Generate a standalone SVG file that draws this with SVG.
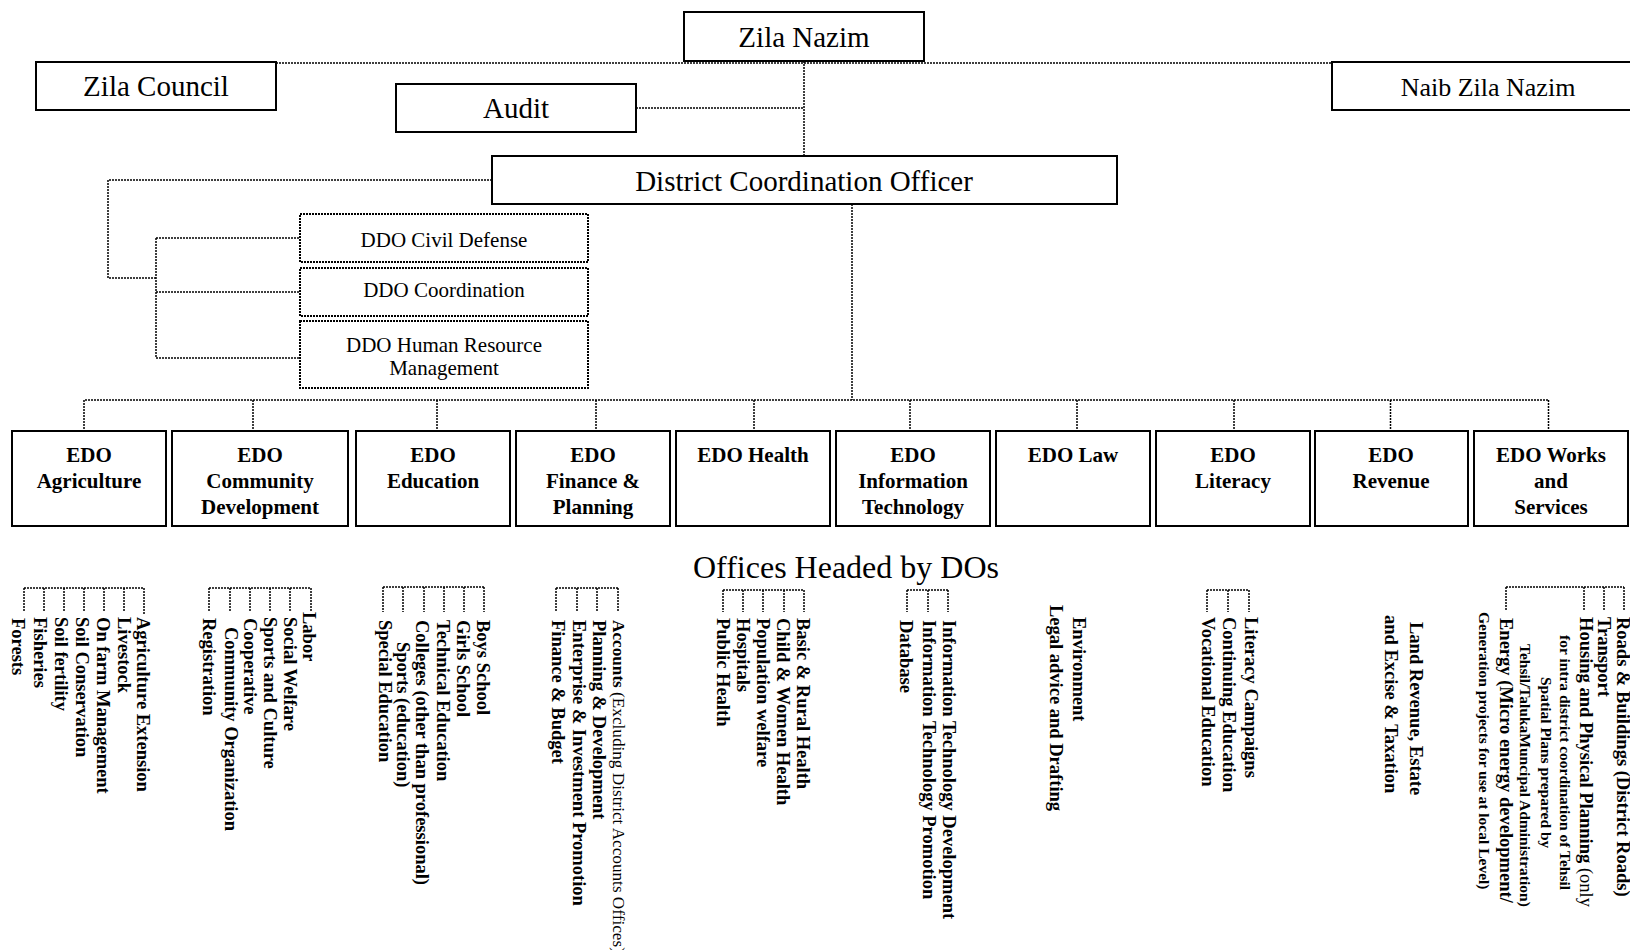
<svg xmlns="http://www.w3.org/2000/svg" width="1630" height="950" viewBox="0 0 1630 950">
<style>
.box{fill:#fff;stroke:#000;stroke-width:2}
.dbox{fill:#fff;stroke:#000;stroke-width:2;stroke-dasharray:2 1}
.conn{fill:none;stroke:#000;stroke-width:1.5;stroke-dasharray:2 1}
.tx{font-family:"Liberation Serif","Times New Roman",serif;fill:#000;text-anchor:middle}
.big{font-size:29px}
.mid{font-size:26px}
.ddo{font-size:21px}
.edo{font-size:21px;font-weight:bold}
.hd{font-size:32px}
.ls{font-family:"Liberation Serif","Times New Roman",serif;fill:#000;font-size:18.5px;font-weight:bold}
.sm{font-size:15.5px}
.acc{font-size:17.2px}
.rg{font-weight:normal}
</style>
<rect width="1630" height="950" fill="#fff"/>
<g id="connectors">
<path class="conn" d="M276,63 H1332"/>
<path class="conn" d="M804,61 V156"/>
<path class="conn" d="M636,108 H804"/>
<path class="conn" d="M492,180 H108 V278 H156"/>
<path class="conn" d="M156,238 V358"/>
<path class="conn" d="M156,238 H300 M156,292 H300 M156,358 H300"/>
<path class="conn" d="M852,204 V400"/>
<path class="conn" d="M85,400 H1548.5"/>
<path class="conn" d="M84,400 V431 M253,400 V431 M437,400 V431 M596,400 V431 M754,400 V431 M910,400 V431 M1077,400 V431 M1234,400 V431 M1390.5,400 V431 M1548.5,400 V431"/>
<path class="conn" d="M24,588 H144 M24,588 V612 M44,588 V612 M64,588 V612 M84,588 V612 M104,588 V612 M124,588 V612 M144,588 V614"/>
<path class="conn" d="M209,588 H311 M209,588 V612 M230,588 V612 M250,588 V612 M270,588 V612 M290,588 V612 M311,588 V612"/>
<path class="conn" d="M383,587 H484 M383,587 V612 M403,587 V612 M424,587 V612 M444,587 V612 M464,587 V612 M484,587 V612"/>
<path class="conn" d="M556,588 H618 M556,588 V612 M577,588 V612 M597,588 V612 M618,588 V612"/>
<path class="conn" d="M723,590 H804 M723,590 V612 M743,590 V612 M763,590 V612 M784,590 V612 M804,590 V612"/>
<path class="conn" d="M907,590 H948 M907,590 V612 M928,590 V612 M948,590 V612"/>
<path class="conn" d="M1207,590 H1249 M1207,590 V612 M1228,590 V612 M1249,590 V612"/>
<path class="conn" d="M1506,587 H1624 M1506,587 V611 M1584,587 V611 M1604,587 V611 M1624,587 V611"/>
</g>
<g id="zila-nazim"><rect class="box" x="684" y="12" width="240" height="49"/><text class="tx big" x="804" y="47">Zila Nazim</text></g>
<g id="zila-council"><rect class="box" x="36" y="62" width="240" height="48"/><text class="tx big" x="156" y="96">Zila Council</text></g>
<g id="naib-zila-nazim"><rect class="box" x="1332" y="62" width="310" height="48"/><text class="tx mid" x="1488" y="96">Naib Zila Nazim</text></g>
<g id="audit"><rect class="box" x="396" y="84" width="240" height="48"/><text class="tx big" x="516" y="118">Audit</text></g>
<g id="dco"><rect class="box" x="492" y="156" width="625" height="48"/><text class="tx big" x="804" y="191">District Coordination Officer</text></g>
<g id="ddo-civil-defense"><rect class="dbox" x="300" y="214" width="288" height="48"/><text class="tx ddo" x="444" y="247">DDO Civil Defense</text></g>
<g id="ddo-coordination"><rect class="dbox" x="300" y="268" width="288" height="48"/><text class="tx ddo" x="444" y="297">DDO Coordination</text></g>
<g id="ddo-hrm"><rect class="dbox" x="300" y="321" width="288" height="67"/><text class="tx ddo" x="444" y="352">DDO Human Resource</text><text class="tx ddo" x="444" y="375">Management</text></g>
<g id="edo-agriculture"><rect class="box" x="12" y="431" width="154" height="95"/><text class="tx edo" x="89" y="462">EDO</text><text class="tx edo" x="89" y="488">Agriculture</text></g>
<g id="edo-community"><rect class="box" x="172" y="431" width="176" height="95"/><text class="tx edo" x="260" y="462">EDO</text><text class="tx edo" x="260" y="488">Community</text><text class="tx edo" x="260" y="513.5">Development</text></g>
<g id="edo-education"><rect class="box" x="356" y="431" width="154" height="95"/><text class="tx edo" x="433" y="462">EDO</text><text class="tx edo" x="433" y="488">Education</text></g>
<g id="edo-finance"><rect class="box" x="516" y="431" width="154" height="95"/><text class="tx edo" x="593" y="462">EDO</text><text class="tx edo" x="593" y="488">Finance &amp;</text><text class="tx edo" x="593" y="513.5">Planning</text></g>
<g id="edo-health"><rect class="box" x="676" y="431" width="154" height="95"/><text class="tx edo" x="753" y="462">EDO Health</text></g>
<g id="edo-it"><rect class="box" x="836" y="431" width="154" height="95"/><text class="tx edo" x="913" y="462">EDO</text><text class="tx edo" x="913" y="488">Information</text><text class="tx edo" x="913" y="513.5">Technology</text></g>
<g id="edo-law"><rect class="box" x="996" y="431" width="154" height="95"/><text class="tx edo" x="1073" y="462">EDO Law</text></g>
<g id="edo-literacy"><rect class="box" x="1156" y="431" width="154" height="95"/><text class="tx edo" x="1233" y="462">EDO</text><text class="tx edo" x="1233" y="488">Literacy</text></g>
<g id="edo-revenue"><rect class="box" x="1315" y="431" width="153" height="95"/><text class="tx edo" x="1391" y="462">EDO</text><text class="tx edo" x="1391" y="488">Revenue</text></g>
<g id="edo-works"><rect class="box" x="1474" y="431" width="154" height="95"/><text class="tx edo" x="1551" y="462">EDO Works</text><text class="tx edo" x="1551" y="488">and</text><text class="tx edo" x="1551" y="513.5">Services</text></g>
<g id="offices-heading"><text class="tx hd" x="846" y="578">Offices Headed by DOs</text></g>
<g id="list-agriculture">
<text class="ls" transform="translate(136.5,617) rotate(90)">Agriculture Extension</text>
<text class="ls" transform="translate(118,617) rotate(90)">Livestock</text>
<text class="ls" transform="translate(97,617) rotate(90)">On farm Management</text>
<text class="ls" transform="translate(75.5,617) rotate(90)">Soil Conservation</text>
<text class="ls" transform="translate(55,617) rotate(90)">Soil fertility</text>
<text class="ls" transform="translate(33.5,617) rotate(90)">Fisheries</text>
<text class="ls" transform="translate(12,618) rotate(90)">Forests</text>
</g>
<g id="list-community">
<text class="ls" transform="translate(303,612) rotate(90)">Labor</text>
<text class="ls" transform="translate(284,617) rotate(90)">Social Welfare</text>
<text class="ls" transform="translate(264,617) rotate(90)">Sports and Culture</text>
<text class="ls" transform="translate(244,618) rotate(90)">Cooperative</text>
<text class="ls" transform="translate(225,627) rotate(90)">Community Organization</text>
<text class="ls" transform="translate(203,618) rotate(90)">Registration</text>
</g>
<g id="list-education">
<text class="ls" transform="translate(477,620) rotate(90)">Boys School</text>
<text class="ls" transform="translate(456.5,620) rotate(90)">Girls School</text>
<text class="ls" transform="translate(437,620) rotate(90)">Technical Education</text>
<text class="ls" transform="translate(416,620) rotate(90)">Colleges (other than professional)</text>
<text class="ls" transform="translate(397,642) rotate(90)">Sports (education)</text>
<text class="ls" transform="translate(378.5,620) rotate(90)">Special Education</text>
</g>
<g id="list-finance">
<text class="ls acc" transform="translate(613,620) rotate(90)">Accounts <tspan class="rg">(Excluding District Accounts Offices)</tspan></text>
<text class="ls" transform="translate(593,620) rotate(90)">Planning &amp; Development</text>
<text class="ls" transform="translate(572.5,620) rotate(90)">Enterprise &amp; Investment Promotion</text>
<text class="ls" transform="translate(551.5,620) rotate(90)">Finance &amp; Budget</text>
</g>
<g id="list-health">
<text class="ls" transform="translate(796.5,618) rotate(90)">Basic &amp; Rural Health</text>
<text class="ls" transform="translate(776.5,618) rotate(90)">Child &amp; Women Health</text>
<text class="ls" transform="translate(756.5,618) rotate(90)">Population welfare</text>
<text class="ls" transform="translate(736.5,618) rotate(90)">Hospitals</text>
<text class="ls" transform="translate(716.5,618) rotate(90)">Public Health</text>
</g>
<g id="list-it">
<text class="ls" transform="translate(943,620) rotate(90)">Information Technology Development</text>
<text class="ls" transform="translate(922.5,620) rotate(90)">Information Technology Promotion</text>
<text class="ls" transform="translate(900,620) rotate(90)">Database</text>
</g>
<g id="list-law">
<text class="ls" transform="translate(1073,617) rotate(90)">Environment</text>
<text class="ls" transform="translate(1050,605) rotate(90)">Legal advice and Drafting</text>
</g>
<g id="list-literacy">
<text class="ls" transform="translate(1245,617) rotate(90)">Literacy Campaigns</text>
<text class="ls" transform="translate(1223,617) rotate(90)">Continuing Education</text>
<text class="ls" transform="translate(1201.5,617) rotate(90)">Vocational Education</text>
</g>
<g id="list-revenue">
<text class="ls" transform="translate(1410,622) rotate(90)">Land Revenue, Estate</text>
<text class="ls" transform="translate(1385,615) rotate(90)">and Excise &amp; Taxation</text>
</g>
<g id="list-works">
<text class="ls" transform="translate(1616.5,617) rotate(90)">Roads &amp; Buildings (District Roads)</text>
<text class="ls" transform="translate(1598,617) rotate(90)">Transport</text>
<text class="ls" transform="translate(1580,617) rotate(90)">Housing and Physical Planning <tspan class="rg">(only</tspan></text>
<text class="ls sm" transform="translate(1560,635) rotate(90)">for intra district coordination of Tehsil</text>
<text class="ls sm" transform="translate(1541,677) rotate(90)">Spatial Plans prepared by</text>
<text class="ls sm" transform="translate(1520,644) rotate(90)">Tehsil/TalukaMuncipal Administration)</text>
<text class="ls" transform="translate(1500,618) rotate(90)">Energy (Micro energy development/</text>
<text class="ls sm" transform="translate(1478.5,612) rotate(90)">Generation projects for use at local Level)</text>
</g>
</svg>
